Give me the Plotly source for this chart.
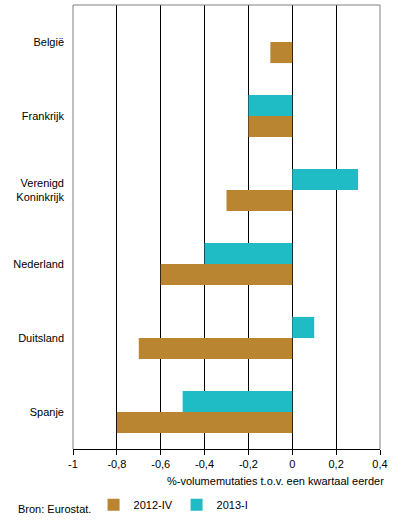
import plotly.graph_objects as go

categories = ["België", "Frankrijk", "Verenigd<br>Koninkrijk", "Nederland", "Duitsland", "Spanje"]
series_2012_iv = [-0.1, -0.2, -0.3, -0.6, -0.7, -0.8]
series_2013_i = [0.0, -0.2, 0.3, -0.4, 0.1, -0.5]
tick_vals = [-1, -0.8, -0.6, -0.4, -0.2, 0, 0.2, 0.4]
tick_text = ["-1", "-0,8", "-0,6", "-0,4", "-0,2", "0", "0,2", "0,4"]

BROWN = "#BA8530"
TEAL = "#1FBCC6"
FONT = "Liberation Sans, Arial, sans-serif"

fig = go.Figure()
fig.add_trace(go.Bar(y=categories, x=series_2012_iv, orientation="h", name="2012-IV",
                     marker=dict(color=BROWN, line=dict(width=0))))
fig.add_trace(go.Bar(y=categories, x=series_2013_i, orientation="h", name="2013-I",
                     marker=dict(color=TEAL, line=dict(width=0))))

fig.update_layout(
    width=396, height=524,
    margin=dict(l=73, r=16, t=5, b=75, autoexpand=False),
    paper_bgcolor="white", plot_bgcolor="white",
    font=dict(family=FONT, size=11, color="black"),
    barmode="group", bargap=0.43, bargroupgap=0,
    showlegend=True,
    legend=dict(orientation="h", x=0.067, xanchor="left", y=-0.093, yanchor="top",
                font=dict(size=11), itemwidth=30, tracegroupgap=0,
                entrywidth=38, bgcolor="rgba(0,0,0,0)"),
    xaxis=dict(range=[-1, 0.4], tickvals=tick_vals, ticktext=tick_text,
               showgrid=True, gridcolor="black", gridwidth=1,
               zeroline=False, showline=True, linecolor="black", linewidth=1,
               ticks="outside", ticklen=5, tickcolor="black", mirror=False,
               tickfont=dict(size=11)),
    yaxis=dict(categoryorder="array", categoryarray=categories[::-1],
               showgrid=False, zeroline=False, showline=False, ticks="",
               ticklabelstandoff=8, tickfont=dict(size=11)),
    shapes=[
        dict(type="line", xref="paper", yref="paper", x0=0, x1=0, y0=0, y1=1,
             line=dict(color="#808080", width=1)),
        dict(type="line", xref="paper", yref="paper", x0=1, x1=1, y0=0, y1=1,
             line=dict(color="#808080", width=1)),
        dict(type="line", xref="paper", yref="paper", x0=0, x1=1, y0=1, y1=1,
             line=dict(color="#808080", width=1)),
    ],
    annotations=[
        dict(text="%-volumemutaties t.o.v. een kwartaal eerder", xref="paper", yref="paper",
             x=1.02, y=-0.054, xanchor="right", yanchor="top", showarrow=False,
             font=dict(size=11)),
        dict(text="Bron: Eurostat.", xref="paper", yref="paper",
             x=-0.185, y=-0.118, xanchor="left", yanchor="top", showarrow=False,
             font=dict(size=11)),
    ],
)

fig.write_html("out.html", config={"displayModeBar": False})
with open("out.html", encoding="utf-8") as f:
    html = f.read()
html = html.replace("<body>", '<body style="margin:0;padding:0">', 1)
with open("out.html", "w", encoding="utf-8") as f:
    f.write(html)
